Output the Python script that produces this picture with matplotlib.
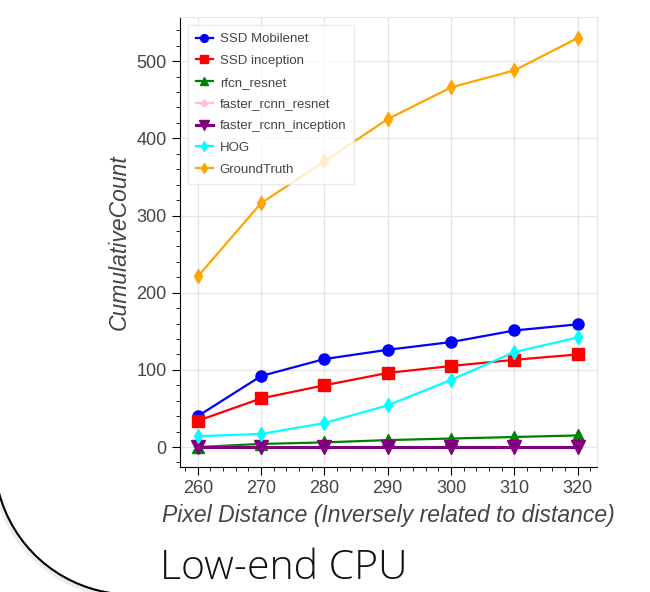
import matplotlib.pyplot as plt
import numpy as np
from matplotlib.patches import Arc
from matplotlib.ticker import MultipleLocator

# Pixel distance values and cumulative counts per detector
distance = [260, 270, 280, 290, 300, 310, 320]
ssd_mobilenet = [40, 92, 114, 126, 136, 151, 159]
ssd_inception = [34, 63, 80, 96, 105, 113, 120]
rfcn_resnet = [0, 4, 6, 9, 11, 13, 15]
faster_rcnn_resnet = [0, 0, 0, 0, 0, 0, 0]
faster_rcnn_inception = [0, 0, 0, 0, 0, 0, 0]
hog = [14, 17, 31, 54, 87, 123, 142]
ground_truth = [221, 316, 370, 425, 466, 488, 530]

series = [
    ("SSD Mobilenet", ssd_mobilenet, "blue", "o", 8, 1.6),
    ("SSD inception", ssd_inception, "red", "s", 8, 1.6),
    ("rfcn_resnet", rfcn_resnet, "green", "^", 8, 1.6),
    ("faster_rcnn_resnet", faster_rcnn_resnet, "pink", "P", 6, 1.6),
    ("faster_rcnn_inception", faster_rcnn_inception, "purple", "v", 10, 2.2),
    ("HOG", hog, "cyan", "d", 7, 1.6),
    ("GroundTruth", ground_truth, "orange", "d", 7, 1.6),
]

plt.rcParams['font.family'] = ['Liberation Sans', 'DejaVu Sans']

fig = plt.figure(figsize=(6.5, 5.92), dpi=100)
ax = fig.add_axes([0.277, 0.211, 0.641, 0.760])

for name, vals, col, mk, ms, lw in series:
    ax.plot(distance, vals, color=col, marker=mk, markersize=ms, linewidth=lw, label=name)

ax.set_xlim(257.2, 323)
ax.set_ylim(-26, 557)
ax.xaxis.set_major_locator(MultipleLocator(10))
ax.xaxis.set_minor_locator(MultipleLocator(2))
ax.yaxis.set_major_locator(MultipleLocator(100))
ax.yaxis.set_minor_locator(MultipleLocator(20))
ax.grid(True, color="#e6e6e6", linewidth=1)
ax.set_axisbelow(True)
ax.tick_params(which='major', length=6, labelsize=13, labelcolor="#444444")
ax.tick_params(which='minor', length=3)
for s in ['top', 'right']:
    ax.spines[s].set_color("#e6e6e6")
ax.set_xlabel("Pixel Distance (Inversely related to distance)", fontstyle='italic',
              fontsize=16.5, color="#444444", labelpad=5)
ax.set_ylabel("CumulativeCount", fontstyle='italic', fontsize=16.5, color="#444444")

leg = ax.legend(loc='upper left', fontsize=9.5, frameon=True, fancybox=False,
                borderpad=0.6, handlelength=1.3, handletextpad=0.5, labelspacing=0.72,
                markerscale=0.7, borderaxespad=0.6)
leg.get_frame().set_edgecolor("#e6e6e6")
for t in leg.get_texts():
    t.set_color("#444444")

fig.text(0.246, 0.022, "Low-end CPU", fontsize=29.5, family=['Open Sans', 'DejaVu Sans'],
         fontweight='light', color="#111111")

# decorative arc from the slide, lower-left
cx, cy, r = 131 / 650, 1 - 458 / 592, 136.5
arc_shadow = Arc((cx - 0.002, cy - 0.003), 2 * r / 650, 2 * r / 592, theta1=196, theta2=262,
                 transform=fig.transFigure, color="#d0d0d0", linewidth=4, alpha=0.4)
arc = Arc((cx, cy), 2 * r / 650, 2 * r / 592, theta1=196, theta2=262,
          transform=fig.transFigure, color="black", linewidth=1.5)
fig.add_artist(arc_shadow)
fig.add_artist(arc)

fig.savefig("out.png", dpi=100)
